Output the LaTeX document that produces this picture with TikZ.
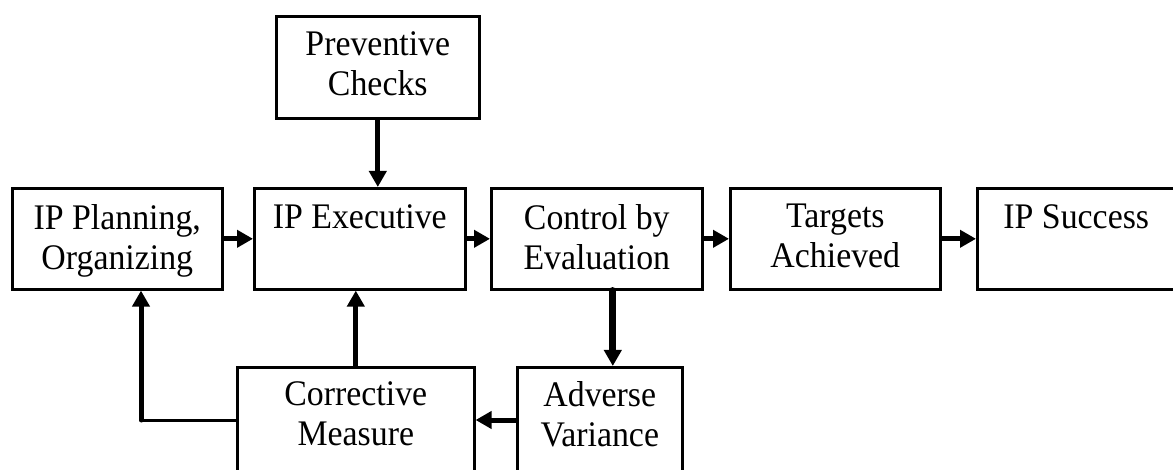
\documentclass[tikz,border=0pt]{standalone}
\usepackage{fontspec}
\setmainfont{Liberation Serif}[FakeStretch=0.94]
\usetikzlibrary{arrows.meta}

\begin{document}
\begin{tikzpicture}[x=1pt,y=-1pt,
  box/.style={draw, line width=2.6pt, rectangle, inner sep=0pt, anchor=north west},
  lbl/.style={font=\fontsize{36}{40}\selectfont, align=center, anchor=north, inner sep=0pt},
  tip/.style={-{Triangle[length=16pt,width=17pt]}},
  flow/.style={tip, line width=5pt, line cap=round},
  thin link/.style={line width=3pt},
]
\useasboundingbox (0,0) rectangle (1173,470);
\clip (0,0) rectangle (1173,470);

% boxes
\node[box, minimum width=203pt, minimum height=102pt] (prev) at (275,15) {};
\node[box, minimum width=210pt, minimum height=101pt] (plan) at (11,187) {};
\node[box, minimum width=211pt, minimum height=101pt] (exec) at (253,187) {};
\node[box, minimum width=211pt, minimum height=101pt] (ctrl) at (490,187) {};
\node[box, minimum width=210pt, minimum height=101pt] (targ) at (729,187) {};
\node[box, minimum width=210pt, minimum height=101pt] (succ) at (976,187) {};
\node[box, minimum width=237pt, minimum height=130pt] (corr) at (236,366) {};
\node[box, minimum width=165pt, minimum height=130pt] (adv)  at (516,366) {};

% labels
\node[lbl] (prevt) at ([yshift=-16pt]prev.north) {Preventive\\Checks};
\node[lbl] (plant) at ([yshift=-17pt]plan.north) {IP Planning,\\Organizing};
\node[lbl] (exect) at ([yshift=-17pt]exec.north) {IP Executive};
\node[lbl] (ctrlt) at ([yshift=-17pt]ctrl.north) {Control by\\Evaluation};
\node[lbl] (targt) at ([yshift=-17pt]targ.north) {Targets\\Achieved};
\node[lbl] (succt) at ([yshift=-17pt,xshift=-6pt]succ.north) {IP Success};
\node[lbl] (corrt) at ([yshift=-15pt]corr.north) {Corrective\\Measure};
\node[lbl] (advt)  at ([yshift=-15pt]adv.north)  {Adverse\\Variance};

% connectors
\coordinate (low) at (0,420);
\coordinate (bend) at (141,420);

\draw[flow] (prev.south) -- (prev.south |- exec.north);
\draw[flow] (plan.east) -- (exec.west);
\draw[flow] (exec.east) -- (ctrl.west);
\draw[flow] (ctrl.east) -- (targ.west);
\draw[flow] (targ.east) -- (succ.west);
\draw[flow, line width=7pt] ([xshift=16pt]ctrl.south) -- ([xshift=16pt]ctrl.south |- adv.north);
\draw[flow] (adv.west |- low) -- (corr.east |- low);
\draw[flow] (corr.north) -- (corr.north |- exec.south);
\draw[thin link] (corr.west |- low) -- (bend);
\draw[flow] (bend) -- (bend |- plan.south);
\end{tikzpicture}
\end{document}
